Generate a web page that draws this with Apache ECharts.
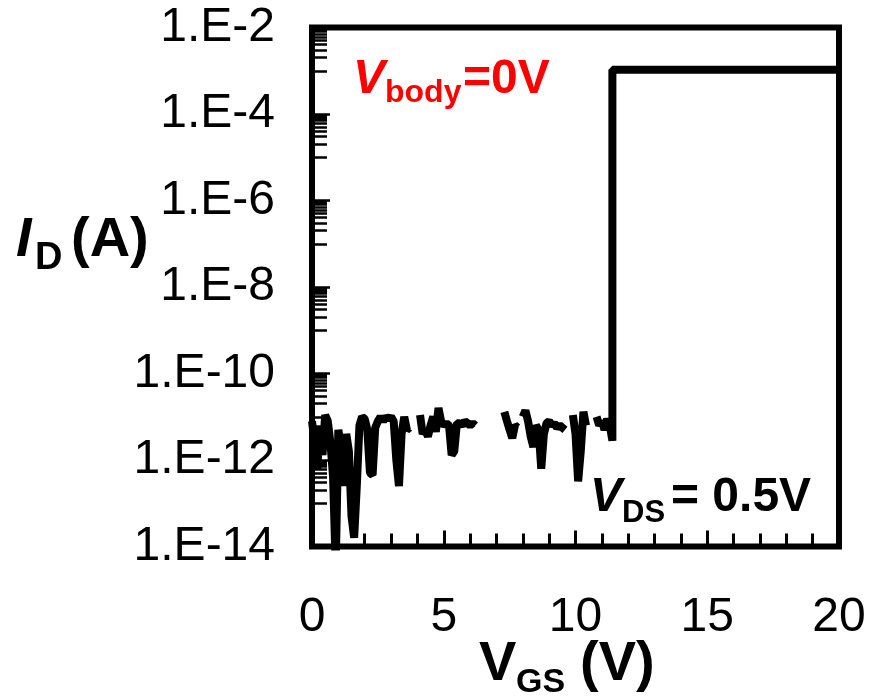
<!DOCTYPE html>
<html>
<head>
<meta charset="utf-8">
<style>
  html, body { margin: 0; padding: 0; background: #fff; }
  #chart { width: 873px; height: 698px; }
</style>
<script src="https://cdn.jsdelivr.net/npm/echarts@6/dist/echarts.min.js"></script>
</head>
<body>
<div id="chart"></div>
<script>
// Transfer curve: drain current vs gate voltage (V_body = 0 V, V_DS = 0.5 V)
const vgs = [
  0.0, 0.1, 0.2, 0.3, 0.4, 0.5, 0.6, 0.7, 0.8, 0.9,
  1.0, 1.1, 1.2, 1.3, 1.4, 1.5, 1.6, 1.7, 1.8, 1.9,
  2.0, 2.1, 2.2, 2.3, 2.4, 2.5, 2.6, 2.7, 2.8, 2.9,
  3.0, 3.1, 3.2, 3.3, 3.4, 3.5, 3.6, 3.7, 3.8, 3.9,
  4.0, 4.1, 4.2, 4.3, 4.4, 4.5, 4.6, 4.7, 4.8, 4.9,
  5.0, 5.1, 5.2, 5.3, 5.4, 5.5, 5.6, 5.7, 5.8, 5.9,
  6.0, 6.1, 6.2, 6.3, 6.6, 7.0, 7.2, 7.3, 7.4, 7.5,
  7.6, 7.7, 7.8, 7.9, 8.0, 8.1, 8.2, 8.3, 8.4, 8.5,
  8.6, 8.7, 8.8, 8.9, 9.0, 9.1, 9.2, 9.3, 9.4, 9.5,
  9.6, 9.7, 9.8, 9.9, 10.0, 10.1, 10.2, 10.3, 10.4, 10.5,
  10.6, 10.7, 10.8, 10.9, 11.0, 11.1, 11.2, 11.3, 11.4, 11.4,
  20.0
];
// Drain current in A; null where the measured current is not positive
const idrain = [
  7.9e-12, 2.5e-12, 6.3e-13, 6.3e-12, 1.3e-12, 1.1e-11, 7.9e-12, 2.5e-12, 4.0e-13, 3.2e-15,
  5.0e-12, 2.0e-12, 2.5e-13, 4.0e-12, 1.6e-12, 5.0e-14, 1.6e-14, 2.5e-13, 6.3e-12, 1.0e-11,
  8.9e-12, 5.0e-12, 5.0e-13, 4.5e-13, 5.6e-12, 7.9e-12, 1.0e-11, 7.9e-12, 1.0e-11, 8.9e-12,
  1.0e-11, 7.9e-12, 1.0e-12, 2.5e-13, 4.0e-12, 1.0e-11, 5.0e-12, 5.6e-12, null, null,
  null, 1.1e-11, 4.0e-12, 5.0e-12, 3.5e-12, 6.3e-12, 1.0e-11, 4.5e-12, 1.6e-11, 7.9e-12,
  6.3e-12, 7.1e-12, 6.3e-12, 1.3e-12, 1.6e-12, 7.1e-12, 7.1e-12, 6.3e-12, 7.9e-12, 7.1e-12,
  6.3e-12, 7.1e-12, 6.3e-12, null, null, null, null, 1.3e-11, 7.9e-12, 5.0e-12,
  3.2e-12, 6.3e-12, 5.6e-12, null, 1.0e-11, 1.4e-11, 7.9e-12, 3.5e-12, 2.0e-12, 6.3e-12,
  5.0e-12, 6.3e-13, 4.0e-12, 7.1e-12, 7.9e-12, 6.3e-12, 7.1e-12, 5.6e-12, 6.3e-12, 5.6e-12,
  5.0e-12, null, null, 1.1e-11, 4.0e-12, 3.2e-13, 1.6e-12, 1.3e-11, 6.3e-12, null,
  null, null, 1.0e-11, 6.3e-12, 7.9e-12, 5.0e-12, 8.9e-12, 6.3e-12, 2.8e-12, 1.05e-3,
  1.05e-3
];

// Axis ranges and ticks
const xMin = 0, xMax = 20, xStep = 5;
const yMin = 1e-14, yMax = 1e-2;
// Minor tick marks: k x 10^e inside every two-decade interval
const minorTickMantissas = [1, 2, 3, 4, 5, 6, 7, 8, 9];
const minorTickDecades = [-13, -11, -9, -7, -5, -3];

const FONT = '"Liberation Sans", Arial, sans-serif';

const minorTickExponents = [];
minorTickDecades.forEach(function (e) {
  minorTickMantissas.forEach(function (k) {
    minorTickExponents.push(e + Math.log10(k));
  });
});

const seriesData = vgs.map(function (x, i) {
  return [x, idrain[i] == null ? null : idrain[i]];
});

// Text placed by its baseline (middle of a Latin em box sits ~0.31 em above it)
function txt(str, x, baseline, size, weight, style, color) {
  return {
    type: 'text',
    x: x,
    y: baseline - 0.31 * size,
    silent: true,
    style: {
      text: str,
      font: (style || 'normal') + ' ' + (weight || 'normal') + ' ' + size + 'px ' + FONT,
      fill: color || '#000',
      textAlign: 'left',
      verticalAlign: 'middle',
      textVerticalAlign: 'middle'
    }
  };
}

const chart = echarts.init(document.getElementById('chart'), null, { renderer: 'canvas' });

chart.setOption({
  animation: false,
  backgroundColor: '#fff',
  grid: {
    left: 312, top: 27.5, width: 527, height: 519,
    show: true,
    borderColor: '#000',
    borderWidth: 6,
    backgroundColor: 'transparent',
    containLabel: false
  },
  xAxis: {
    type: 'value',
    min: xMin, max: xMax, interval: xStep,
    axisLine: { show: false },
    axisTick: { show: true, inside: true, length: 16, lineStyle: { color: '#000', width: 3 } },
    minorTick: { show: true, splitNumber: 5, length: 13, lineStyle: { color: '#000', width: 3 } },
    splitLine: { show: false },
    minorSplitLine: { show: false },
    axisLabel: {
      margin: 47,
      color: '#000',
      fontSize: 48,
      fontFamily: FONT
    }
  },
  yAxis: [
    {
      type: 'log',
      logBase: 10,
      min: yMin, max: yMax,
      interval: 2,
      axisLine: { show: false },
      axisTick: { show: true, inside: true, length: 18, lineStyle: { color: '#000', width: 2.5 } },
      splitLine: { show: false },
      axisLabel: {
        margin: 37,
        color: '#000',
        fontSize: 48,
        fontFamily: FONT,
        formatter: function (v) {
          return '1.E' + Math.round(Math.log10(v));
        }
      }
    },
    {
      // decade helper axis that carries only the minor tick marks
      type: 'value',
      min: Math.log10(yMin), max: Math.log10(yMax),
      position: 'left',
      offset: 0,
      axisLine: { show: false },
      axisLabel: { show: false },
      splitLine: { show: false },
      axisTick: {
        show: true, inside: true, length: 15,
        customValues: minorTickExponents,
        lineStyle: { color: '#000', width: 2.5 }
      }
    }
  ],
  series: [
    {
      type: 'line',
      yAxisIndex: 0,
      data: seriesData,
      showSymbol: false,
      connectNulls: false,
      clip: true,
      lineStyle: { color: '#000', width: 8, join: 'bevel', cap: 'butt' },
      z: 3
    }
  ],
  graphic: [
    // y-axis title: I_D (A)
    txt('I', 16, 258, 56, 'bold', 'italic'),
    txt('D', 35, 270, 38, 'bold'),
    txt('(A)', 71, 258, 56, 'bold'),
    // x-axis title: V_GS (V)
    txt('V', 479, 682, 56, 'bold'),
    txt('GS', 516, 693, 34, 'bold'),
    txt('(V)', 580, 682, 56, 'bold'),
    // bias annotations
    txt('V', 353, 95, 48, 'bold', 'italic', '#ff0000'),
    txt('body', 385, 103, 32, 'bold', 'normal', '#ff0000'),
    txt('=0V', 463, 95, 48, 'bold', 'normal', '#ff0000'),
    txt('V', 590, 513, 48, 'bold', 'italic'),
    txt('DS', 622, 523, 31, 'bold'),
    txt('= 0.5V', 671, 513, 48, 'bold')
  ]
});
</script>
</body>
</html>
